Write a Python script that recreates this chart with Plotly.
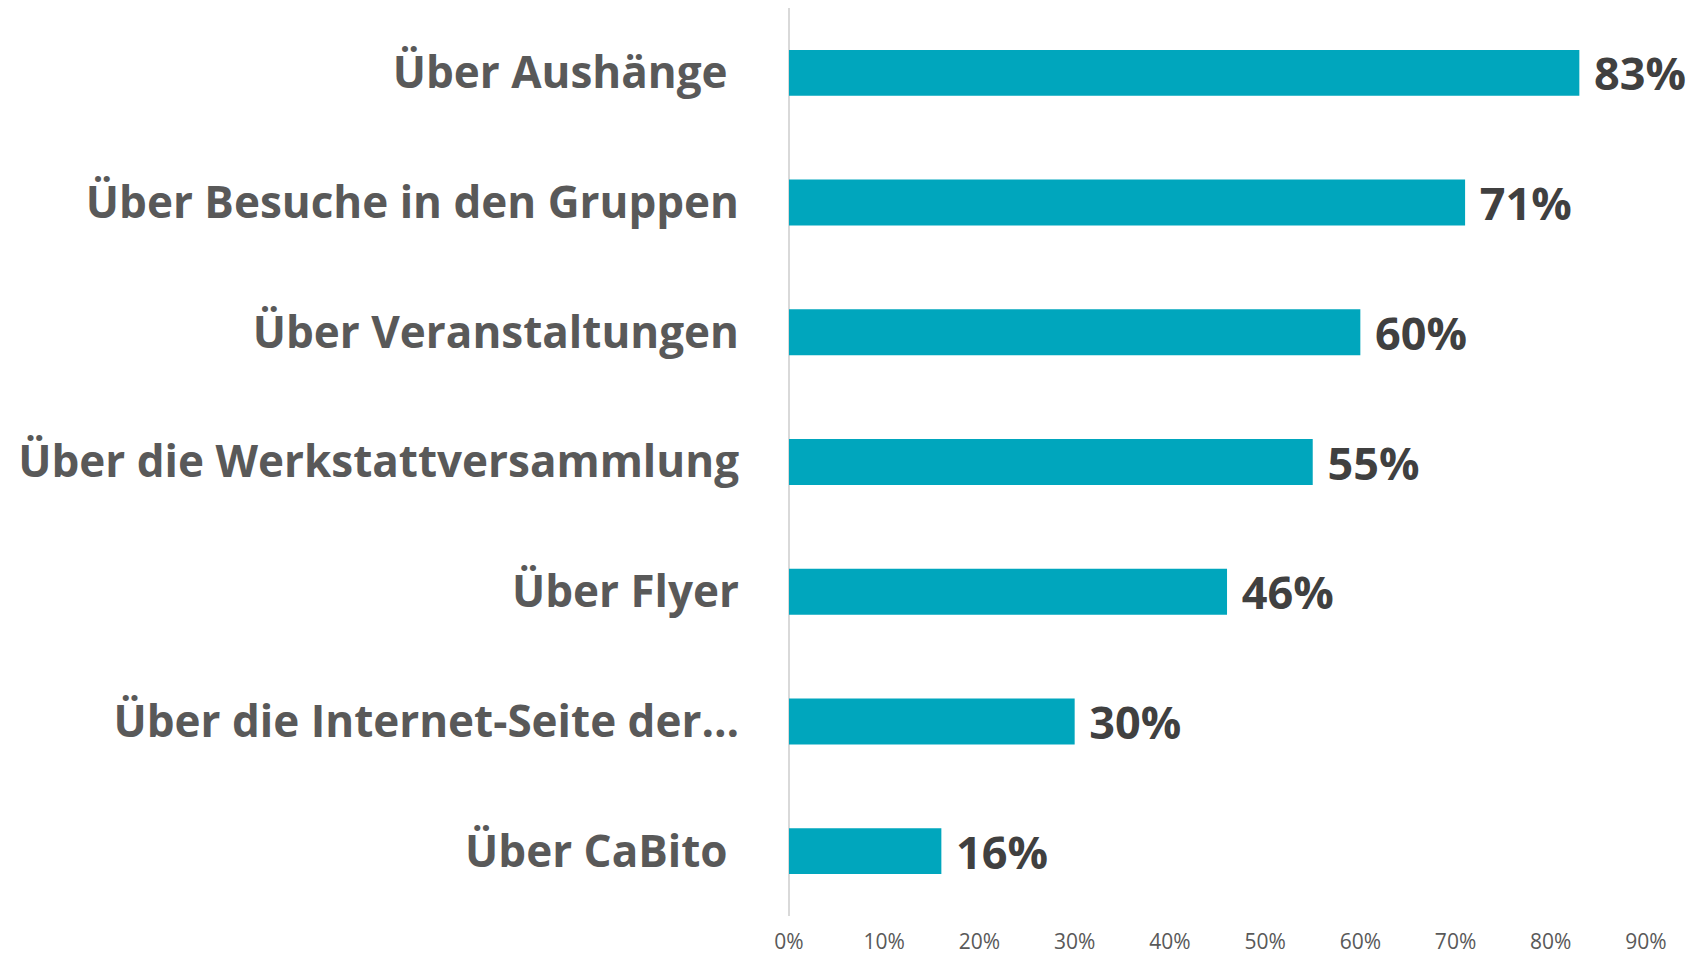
import plotly.graph_objects as go

categories = [
    "Über Aushänge",
    "Über Besuche in den Gruppen",
    "Über Veranstaltungen",
    "Über die Werkstattversammlung",
    "Über Flyer",
    "Über die Internet-Seite der…",
    "Über CaBito",
]
values = [83, 71, 60, 55, 46, 30, 16]
tick_vals = [0, 10, 20, 30, 40, 50, 60, 70, 80, 90]
tick_text = ["0%", "10%", "20%", "30%", "40%", "50%", "60%", "70%", "80%", "90%"]

BAR_COLOR = "#00A6BD"
LABEL_GRAY = "#595959"
VALUE_GRAY = "#404040"

# the original labels carry a trailing space on two rows
padded = {"Über Aushänge", "Über CaBito"}
display_labels = [c + "\u00a0" if c in padded else c for c in categories]

fig = go.Figure(
    go.Bar(
        x=values,
        y=display_labels,
        orientation="h",
        marker=dict(color=BAR_COLOR, line=dict(width=0)),
        text=[f"{v}%" for v in values],
        texttemplate="\u00a0%{text}",
        textposition="outside",
        constraintext="none",
        cliponaxis=False,
        textfont=dict(family="Open Sans", size=45, color=VALUE_GRAY, weight="bold"),
        hoverinfo="skip",
    )
)

# page body has an 8px margin, so the figure is sized to fit the window
fig.update_layout(
    width=1698,
    height=948,
    margin=dict(l=781, r=0, t=0, b=40, autoexpand=False),
    paper_bgcolor="#ffffff",
    plot_bgcolor="#ffffff",
    bargap=0.646,
    showlegend=False,
    font=dict(family="Open Sans"),
)
fig.update_yaxes(
    categoryorder="array",
    categoryarray=display_labels[::-1],
    tickfont=dict(family="Open Sans", size=44, color=LABEL_GRAY, weight="bold"),
    ticklabelstandoff=49,
    showline=False,
    showgrid=False,
    zeroline=False,
)
fig.update_xaxes(
    range=[0, 96.3],
    tickmode="array",
    tickvals=tick_vals,
    ticktext=tick_text,
    tickfont=dict(family="Open Sans", size=21, color=LABEL_GRAY),
    ticklabelstandoff=11,
    showgrid=False,
    zeroline=True,
    zerolinecolor="#D9D9D9",
    zerolinewidth=2,
    showline=False,
)

fig.write_html("out.html")
